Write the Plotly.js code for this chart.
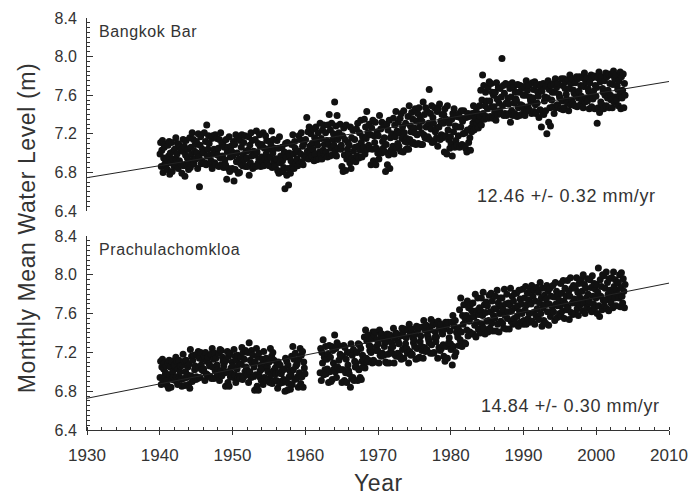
<!DOCTYPE html>
<html>
<head>
<meta charset="utf-8">
<script src="https://cdn.plot.ly/plotly-3.0.1.min.js"></script>
<style>
  html, body { margin: 0; padding: 0; background: #fff; }
  #chart { width: 691px; height: 500px; }
  .annotation-text { letter-spacing: 0.6px; }
</style>
</head>
<body>
<div id="chart"></div>
<script>
// Monthly mean water level (cm), one row of 12 months (Jan..Dec) per year.
const bangkokBarYears = [
  1940,1941,1942,1943,1944,1945,1946,1947,1948,1949,
  1950,1951,1952,1953,1954,1955,1956,1957,1958,1959,
  1960,1961,1962,1963,1964,1965,1966,1967,1968,1969,
  1970,1971,1972,1973,1974,1975,1976,1977,1978,1979,
  1980,1981,1982,1983,1984,1985,1986,1987,1988,1989,
  1990,1991,1992,1993,1994,1995,1996,1997,1998,1999,
  2000,2001,2002,2003
];
const bangkokBarLevelsCm = [
  699,711,686,703,713,680,695,706,689,709,688,694,
  683,708,697,712,678,700,690,711,681,694,702,687,
  704,688,716,693,699,710,684,709,692,706,689,703,
  679,702,714,687,707,676,698,713,689,695,704,683,
  690,716,685,706,699,721,693,714,689,702,709,694,
  712,700,684,720,696,665,708,717,689,692,704,700,
  701,721,690,712,688,729,697,704,718,710,698,689,
  692,715,684,718,699,704,690,719,688,702,715,698,
  705,686,714,695,721,688,710,697,711,685,706,693,
  688,714,673,701,706,684,717,681,696,707,702,684,
  697,712,671,709,683,719,691,700,715,679,694,680,
  713,689,706,719,687,698,711,693,718,686,702,695,
  686,703,717,677,708,690,721,697,713,684,702,686,
  698,714,686,723,701,689,710,694,719,707,686,696,
  709,691,721,687,705,694,718,699,713,691,695,704,
  687,712,696,708,723,685,700,714,691,705,686,694,
  694,713,682,705,679,717,690,697,681,706,692,681,
  685,701,663,710,696,677,711,684,667,700,697,679,
  692,709,686,719,699,684,712,705,689,701,694,687,
  702,718,689,714,699,721,691,707,688,710,697,695,
  714,697,737,702,722,694,727,707,700,720,697,710,
  704,725,692,716,699,727,693,713,708,721,694,701,
  731,699,715,694,724,703,729,709,698,721,701,713,
  696,729,709,740,697,724,705,731,698,714,720,708,
  753,702,728,697,739,714,705,721,718,730,704,708,
  686,718,681,726,698,714,682,729,694,704,711,698,
  708,690,727,684,716,695,724,702,692,714,706,691,
  725,697,731,707,695,721,703,734,711,696,717,705,
  706,735,699,727,715,743,704,721,708,730,705,719,
  688,726,704,734,692,718,711,732,688,705,722,700,
  718,694,739,702,725,700,732,712,705,728,716,701,
  681,709,730,688,724,698,734,684,716,703,720,701,
  707,736,699,729,717,743,705,723,710,732,707,721,
  736,702,741,715,727,701,744,721,712,731,704,715,
  711,738,704,749,714,728,722,742,710,735,711,726,
  721,746,709,733,719,741,710,747,727,736,709,721,
  733,709,753,719,740,716,747,727,715,743,717,731,
  766,714,741,725,749,711,737,731,712,747,722,725,
  716,743,707,746,727,751,714,733,719,740,716,731,
  740,701,746,718,735,699,749,724,714,731,705,717,
  710,735,697,741,722,746,706,728,713,738,708,727,
  718,741,706,737,727,744,709,733,720,744,707,721,
  705,737,701,724,741,711,738,716,703,726,722,741,
  731,749,724,736,742,726,747,731,741,726,734,749,
  738,765,729,755,781,741,770,735,749,763,738,754,
  746,768,736,774,754,738,772,748,763,736,760,748,
  742,763,734,773,756,740,768,752,744,767,741,758,
  798,749,770,739,762,741,772,752,739,771,757,751,
  741,767,732,758,744,773,739,768,752,741,763,756,
  754,738,771,747,763,739,770,750,740,767,749,760,
  746,769,739,760,775,744,765,748,770,745,758,755,
  753,741,773,757,766,743,774,750,741,770,752,763,
  759,737,771,745,769,727,764,742,772,740,754,758,
  744,769,720,757,775,732,766,747,728,770,755,763,
  748,772,741,763,777,747,768,750,772,748,761,758,
  757,746,777,754,770,745,777,747,767,774,761,756,
  752,776,744,767,781,750,772,755,777,752,765,762,
  749,773,760,779,748,777,757,764,779,750,770,759,
  755,778,747,769,783,753,774,757,778,754,767,764,
  746,773,759,781,748,778,756,764,780,746,770,759,
  768,731,778,747,784,742,774,753,779,750,767,763,
  746,775,760,783,749,779,757,765,782,747,772,760,
  755,781,747,771,785,753,777,758,781,755,770,766,
  749,775,760,784,746,779,757,765,782,747,772,760
];

const prachulachomkloaYears = [
  1940,1941,1942,1943,1944,1945,1946,1947,1948,1949,
  1950,1951,1952,1953,1954,1955,1956,1957,1958,1959,
  1962,1963,1964,1965,1966,1967,1968,1969,
  1970,1971,1972,1973,1974,1975,1976,1977,1978,1979,
  1980,1981,1982,1983,1984,1985,1986,1987,1988,1989,
  1990,1991,1992,1993,1994,1995,1996,1997,1998,1999,
  2000,2001,2002,2003
];
const prachulachomkloaLevelsCm = [
  694,711,687,705,713,691,703,709,696,699,706,691,
  686,709,683,712,697,705,684,711,692,700,694,706,
  707,691,715,695,711,687,703,712,694,700,706,692,
  685,707,718,693,711,686,700,712,694,697,705,687,
  708,683,723,696,716,690,712,693,717,702,706,692,
  695,718,693,721,704,714,694,720,707,702,713,701,
  703,716,691,720,698,711,697,715,696,708,706,695,
  718,693,724,705,713,693,719,701,714,695,707,702,
  697,719,691,723,701,722,696,715,711,706,709,699,
  685,712,700,721,689,716,685,719,695,704,698,710,
  706,694,723,697,716,689,712,703,717,694,708,696,
  693,715,708,725,692,720,695,713,700,722,705,702,
  697,720,689,730,700,712,694,722,709,717,695,705,
  681,710,697,724,685,715,681,719,695,701,707,691,
  703,713,687,721,694,708,692,714,691,705,700,693,
  710,689,724,697,716,688,720,701,712,691,704,698,
  691,707,683,710,699,688,707,690,698,701,689,702,
  692,703,680,714,690,711,681,707,688,695,701,682,
  697,716,687,726,702,713,692,719,706,693,708,695,
  684,713,699,724,688,717,695,721,684,710,704,698,
  699,724,691,720,709,733,697,715,702,726,698,713,
  703,718,689,727,700,715,690,726,692,722,709,703,
  738,700,724,694,730,705,727,712,702,718,716,702,
  689,716,702,727,691,725,699,713,689,720,707,701,
  698,720,684,729,693,717,694,723,691,711,705,709,
  705,720,691,729,702,728,694,724,692,711,717,705,
  712,736,704,743,714,732,710,738,712,727,722,726,
  720,734,709,741,712,738,710,741,722,726,733,722,
  729,709,743,717,738,716,739,719,734,717,726,731,
  710,731,709,739,718,735,709,738,720,724,730,719,
  726,745,709,735,717,740,716,739,719,731,729,717,
  715,737,713,745,723,741,714,744,725,729,735,724,
  719,743,709,749,721,739,717,744,718,735,730,733,
  726,739,713,747,724,743,714,746,715,731,737,726,
  722,746,714,753,725,743,721,748,723,738,736,733,
  730,743,719,754,728,748,719,751,720,735,741,731,
  736,749,714,752,725,745,722,749,724,741,739,728,
  716,744,711,751,726,748,714,751,730,735,742,729,
  723,751,707,758,726,747,716,753,720,741,740,736,
  745,727,764,733,776,741,726,758,749,769,730,755,
  729,758,743,773,737,766,752,741,769,756,763,739,
  771,739,757,748,780,736,763,751,776,744,759,766,
  740,763,776,749,758,782,745,769,739,761,772,752,
  768,741,753,779,745,762,781,750,773,742,758,765,
  755,778,742,765,784,749,771,741,760,776,752,768,
  776,750,764,745,785,758,770,744,780,755,762,771,
  744,769,786,752,763,778,749,773,755,781,766,750,
  781,757,768,747,784,762,775,751,770,760,785,749,
  753,776,764,788,749,769,781,755,774,760,751,784,
  770,789,752,778,761,784,749,773,758,787,765,756,
  782,754,771,792,760,776,747,786,766,753,779,769,
  750,775,789,762,783,748,770,786,757,778,761,767,
  789,762,777,753,792,770,783,756,768,779,774,760,
  768,791,757,781,763,794,773,755,786,770,778,764,
  794,766,783,754,778,797,761,786,771,759,789,775,
  760,786,771,797,765,782,758,791,777,769,795,774,
  783,763,800,771,790,760,786,776,766,796,780,771,
  773,795,764,787,762,799,778,770,791,766,785,776,
  790,760,782,807,768,757,795,778,788,764,800,774,
  799,768,786,774,803,765,792,780,763,796,784,777,
  771,797,782,766,803,788,776,795,768,784,792,780,
  792,776,800,767,787,802,778,771,796,783,766,790
];

// Linear trends: rate (mm/yr), its uncertainty, and the fitted level at 1930 (m).
const stationNames = ['Bangkok Bar', 'Prachulachomkloa'];
const trendRatesMmYr = [12.46, 14.84];
const trendErrorsMmYr = [0.32, 0.30];
const trendLevelAt1930 = [6.745, 6.727];
const trendYears = [1930, 2010];

const FONT = 'Liberation Sans, Arial, Helvetica, sans-serif';
const INK = '#333333';

// Expand year rows into monthly time stamps (mid-month) and levels in metres.
function monthlySeries(years, levelsCm) {
  const x = [], y = [];
  years.forEach((yr, i) => {
    for (let m = 0; m < 12; m++) {
      x.push(yr + (m + 0.5) / 12);
      y.push(levelsCm[i * 12 + m] / 100);
    }
  });
  return { x, y };
}

function trendLine(k) {
  return trendYears.map(t => trendLevelAt1930[k] + trendRatesMmYr[k] / 1000 * (t - trendYears[0]));
}

const bb = monthlySeries(bangkokBarYears, bangkokBarLevelsCm);
const pc = monthlySeries(prachulachomkloaYears, prachulachomkloaLevelsCm);

const dotStyle = { color: '#111111', size: 7, line: { width: 0 } };

const traces = [
  { type: 'scatter', mode: 'markers', x: bb.x, y: bb.y, xaxis: 'x', yaxis: 'y', marker: dotStyle, hoverinfo: 'x+y' },
  { type: 'scatter', mode: 'lines', x: trendYears, y: trendLine(0), xaxis: 'x', yaxis: 'y',
    line: { color: '#222222', width: 1 }, hoverinfo: 'skip' },
  { type: 'scatter', mode: 'markers', x: pc.x, y: pc.y, xaxis: 'x', yaxis: 'y2', marker: dotStyle, hoverinfo: 'x+y' },
  { type: 'scatter', mode: 'lines', x: trendYears, y: trendLine(1), xaxis: 'x', yaxis: 'y2',
    line: { color: '#222222', width: 1 }, hoverinfo: 'skip' }
];

function levelAxis(domain) {
  return {
    domain: domain,
    range: [6.4, 8.4],
    anchor: 'x',
    tickmode: 'linear', tick0: 6.4, dtick: 0.4, tickformat: '.1f',
    ticks: 'inside', ticklen: 6, tickwidth: 1, tickcolor: INK,
    minor: { ticks: 'inside', dtick: 0.05, ticklen: 3, tickwidth: 1, tickcolor: INK },
    showline: true, linecolor: INK, linewidth: 1,
    showgrid: false, zeroline: false,
    ticklabelstandoff: 6,
    tickfont: { family: FONT, size: 16, color: INK }
  };
}

function rateText(k) {
  return trendRatesMmYr[k].toFixed(2) + ' +/- ' + trendErrorsMmYr[k].toFixed(2) + ' mm/yr';
}

const layout = {
  width: 691, height: 500,
  margin: { l: 87, r: 22, t: 18, b: 70 },
  paper_bgcolor: '#ffffff', plot_bgcolor: '#ffffff',
  showlegend: false,
  font: { family: FONT, color: INK },
  xaxis: {
    domain: [0, 1], anchor: 'y2', range: [1930, 2010],
    tickmode: 'linear', tick0: 1930, dtick: 10,
    ticks: 'outside', ticklen: 4, tickwidth: 1, tickcolor: INK,
    minor: { ticks: 'inside', dtick: 2, ticklen: 3, tickwidth: 1, tickcolor: INK },
    showline: true, linecolor: INK, linewidth: 1,
    showgrid: false, zeroline: false,
    ticklabelstandoff: 6,
    tickfont: { family: FONT, size: 17, color: INK }
  },
  yaxis: levelAxis([0.5316, 1]),
  yaxis2: levelAxis([0, 0.4709]),
  annotations: [
    { text: stationNames[0], xref: 'paper', yref: 'paper', x: 0.017, y: 0.968,
      xanchor: 'left', yanchor: 'middle', showarrow: false, font: { family: FONT, size: 16, color: INK } },
    { text: stationNames[1], xref: 'paper', yref: 'paper', x: 0.017, y: 0.437,
      xanchor: 'left', yanchor: 'middle', showarrow: false, font: { family: FONT, size: 16, color: INK } },
    { text: rateText(0), xref: 'paper', yref: 'paper', x: 0.981, y: 0.568,
      xanchor: 'right', yanchor: 'middle', showarrow: false, font: { family: FONT, size: 18, color: INK } },
    { text: rateText(1), xref: 'paper', yref: 'paper', x: 0.988, y: 0.058,
      xanchor: 'right', yanchor: 'middle', showarrow: false, font: { family: FONT, size: 18, color: INK } },
    { text: 'Monthly Mean Water Level (m)', xref: 'paper', yref: 'paper', x: -0.103, y: 0.49,
      xanchor: 'center', yanchor: 'middle', textangle: -90, showarrow: false,
      font: { family: FONT, size: 23, color: INK } },
    { text: 'Year', xref: 'paper', yref: 'paper', x: 0.5, y: -0.129,
      xanchor: 'center', yanchor: 'middle', showarrow: false,
      font: { family: FONT, size: 23, color: INK } }
  ]
};

Plotly.newPlot('chart', traces, layout, { displayModeBar: false, staticPlot: true });
</script>
</body>
</html>
